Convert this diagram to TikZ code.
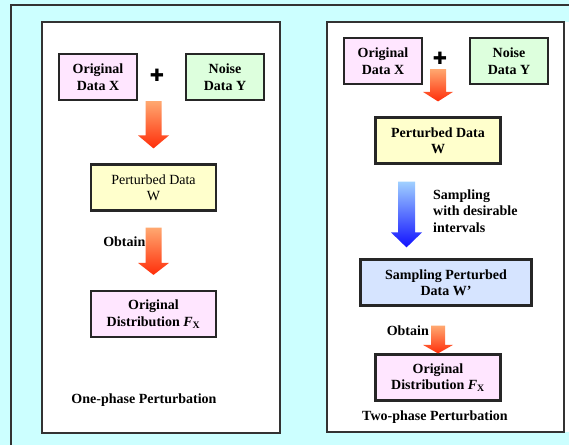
\documentclass[tikz,border=0pt]{standalone}
\usepackage{fontspec}
\setmainfont{Liberation Serif}
\newfontfamily\plusfont{DejaVu Sans}
\usetikzlibrary{positioning,calc}

\definecolor{bgcyan}{HTML}{CCFFFF}
\definecolor{pinkbox}{HTML}{FFE6FF}
\definecolor{greenbox}{HTML}{DDFFDD}
\definecolor{yellowbox}{HTML}{FFFFCC}
\definecolor{bluebox}{HTML}{D6E4FF}
\definecolor{arrtop}{HTML}{FFA870}
\definecolor{arrbot}{HTML}{FF2E0A}
\definecolor{bluetop}{HTML}{A0D0FF}
\definecolor{bluebot}{HTML}{1010FF}

% start, tip, shaft half width, head half width, head length
\newcommand{\fatarrow}[6]{%
  \shade[#1] ($(#2)+(-#4,0)$) -- ($(#3)+(-#4,-#6)$) -- ($(#3)+(-#5,-#6)$) -- (#3)
    -- ($(#3)+(#5,-#6)$) -- ($(#3)+(#4,-#6)$) -- ($(#2)+(#4,0)$) -- cycle;}

\begin{document}
\begin{tikzpicture}[
		x=1pt, y=-1pt,
		font=\fontsize{14}{16.5}\selectfont\bfseries,
		panel/.style = {draw=black!80, line width=2pt, fill=white},
		box/.style = {draw=black!85, line width=2.2pt, align=center, inner sep=2pt},
		smallbox/.style = {box, minimum width=78pt, minimum height=46pt},
		widebox/.style = {box, minimum width=125pt, minimum height=46pt},
		redarrow/.style = {top color=arrtop, bottom color=arrbot},
		bluearrow/.style = {top color=bluetop, bottom color=bluebot},
		plus/.style = {font=\plusfont\fontsize{17}{17}\selectfont, inner sep=0pt}
	]
	\useasboundingbox (0,0) rectangle (569,445);
	\fill[bgcyan] (0,0) rectangle (569,445);
	\draw[black!80, line width=1.6pt] (11,445) -- (11,5) -- (569,5);
	\fill[white] (564,22) rectangle (569,432);
	\draw[panel] (42,22) rectangle (280,433);
	\draw[panel] (327,22) rectangle (564,432);

	% Left panel.
	\node[smallbox, fill=pinkbox] (lX) at (98,77) {Original\\Data X};
	\node[smallbox, fill=greenbox] (lY) at (225,77) {Noise\\Data Y};
	\node[plus] (lplus) at (157,75) {✚};
	\node[widebox, fill=yellowbox, font=\fontsize{14}{16.5}\selectfont\mdseries] (lW) at (153.5,187.5) {Perturbed Data\\W};
	\node[widebox, fill=pinkbox] (lF) at (153.5,314) {Original\\Distribution \textit{F}\textsubscript{X}};
	\node (lcap) at (144,400) {One-phase Perturbation};

	\coordinate (la1) at (lX.south -| lW.north);
	\coordinate (lb1) at ($(lW.north)+(0,-15)$);
	\coordinate (la2) at ($(lW.south)+(0,16)$);
	\coordinate (lb2) at ($(lF.north)+(0,-15)$);
	\fatarrow{redarrow}{la1}{lb1}{8}{15.5}{13}
	\fatarrow{redarrow}{la2}{lb2}{8}{15.5}{12}
	\node[anchor=east, inner sep=0pt] (lob) at ($(la2)+(-8,14)$) {Obtain};

	% Right panel.
	\node[smallbox, fill=pinkbox] (rX) at (383,61) {Original\\Data X};
	\node[smallbox, fill=greenbox] (rY) at (509,61) {Noise\\Data Y};
	\node[plus] (rplus) at (440,58) {✚};
	\node[widebox, fill=yellowbox] (rW) at (438,140.5) {Perturbed Data\\W};
	\node[box, fill=bluebox, minimum width=171pt, minimum height=46pt] (rS) at (446,282.5) {Sampling Perturbed\\Data W'};
	\node[widebox, fill=pinkbox] (rF) at (438,377.5) {Original\\Distribution \textit{F}\textsubscript{X}};
	\node (rcap) at (435,417) {Two-phase Perturbation};

	\coordinate (ra1) at ($(rX.east -| rW.north)+(0,8)$);
	\coordinate (rb1) at ($(rW.north)+(0,-15)$);
	\coordinate (ra2) at ($(rW.south)+(-31.5,17)$);
	\coordinate (rb2) at ($(rS.north)+(-39.5,-11)$);
	\coordinate (ra3) at ($(rS.south -| rF.north)+(0,19)$);
	\coordinate (rb3) at (rF.north);
	\fatarrow{redarrow}{ra1}{rb1}{8}{15}{9.5}
	\fatarrow{bluearrow}{ra2}{rb2}{8.5}{15.5}{15}
	\fatarrow{redarrow}{ra3}{rb3}{7}{15}{8.5}
	\node[anchor=west, align=left, inner sep=0pt] (rsamp) at (433,211) {Sampling\\with desirable\\intervals};
	\node[anchor=east, inner sep=0pt] (rob) at ($(ra3)+(-9,5)$) {Obtain};
\end{tikzpicture}
\end{document}
